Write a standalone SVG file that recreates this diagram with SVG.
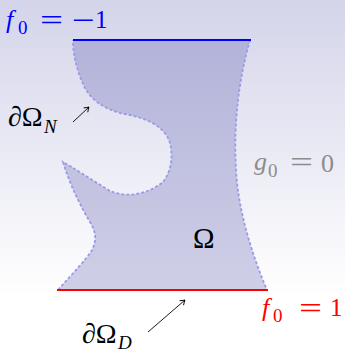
<svg xmlns="http://www.w3.org/2000/svg" width="345" height="349" viewBox="0 0 345 349">
<defs>
<linearGradient id="bg" x1="0" y1="0" x2="0" y2="1">
<stop offset="0" stop-color="#d4d4ea"/>
<stop offset="0.85" stop-color="#ffffff"/>
<stop offset="1" stop-color="#ffffff"/>
</linearGradient>
<linearGradient id="dom" gradientUnits="userSpaceOnUse" x1="0" y1="40" x2="0" y2="290">
<stop offset="0" stop-color="#b3b3da"/>
<stop offset="1" stop-color="#cfcfe7"/>
</linearGradient>
<marker id="ah" markerWidth="8" markerHeight="8" viewBox="-5 -4 6 8" refX="0" refY="0" orient="auto" markerUnits="userSpaceOnUse">
<path d="M-4.5,-3 Q-1.5,-0.6 0,0 Q-1.5,0.6 -4.5,3" fill="none" stroke="#000" stroke-width="0.9"/>
</marker>
<style>
.m{font-family:"Liberation Serif","Times New Roman",serif}
.i{font-style:italic}
.free{fill:none;stroke:#9a9ae6;stroke-width:1.8;stroke-dasharray:3 2}
.arr{fill:none;stroke:#000;stroke-width:0.9;marker-end:url(#ah)}
</style>
</defs>
<rect width="345" height="349" fill="url(#bg)"/>
<g id="domain">
<path d="M73,40 L250,40 C240,75 233,120 236,170 C238,210 252,255 267,290 L58,290 C72,274 86,260 92,250 C97,240 96,232 90,222 C80,205 70,185 63,162 C72,167 92,180 110,191 C128,199 150,193 163,182 C173,170 174,148 167,136 C158,122 140,117 125,114 C105,110 90,100 83,84 C77,70 73,55 73,40 Z" fill="url(#dom)"/>
<path class="free" d="M250,40 C240,75 233,120 236,170 C238,210 252,255 267,290"/>
<path class="free" d="M58,290 C72,274 86,260 92,250 C97,240 96,232 90,222 C80,205 70,185 63,162 C72,167 92,180 110,191 C128,199 150,193 163,182 C173,170 174,148 167,136 C158,122 140,117 125,114 C105,110 90,100 83,84 C77,70 73,55 73,40"/>
<line x1="73" y1="40" x2="251" y2="40" stroke="#0000ff" stroke-width="2"/>
<line x1="57" y1="290" x2="268" y2="290" stroke="#ff0000" stroke-width="2"/>
<text class="m" x="193" y="248" font-size="29">Ω</text>
</g>
<g id="connectors">
<line class="arr" x1="73" y1="122" x2="89" y2="107"/>
<line class="arr" x1="148" y1="332" x2="185" y2="300"/>
</g>
<g id="label-top" fill="#0000ff">
<text class="m i" x="6" y="28" font-size="26">f</text>
<text class="m" x="18" y="34" font-size="19">0</text>
<text class="m" x="40" y="30" font-size="30" textLength="23" lengthAdjust="spacingAndGlyphs">=</text>
<text class="m" x="72" y="30" font-size="30" textLength="23" lengthAdjust="spacingAndGlyphs">−</text>
<text class="m" x="95" y="28" font-size="25">1</text>
</g>
<g id="label-bottom" fill="#ff0000">
<text class="m i" x="262" y="316" font-size="26">f</text>
<text class="m" x="273" y="322" font-size="19">0</text>
<text class="m" x="299" y="318" font-size="30" textLength="23" lengthAdjust="spacingAndGlyphs">=</text>
<text class="m" x="330" y="316" font-size="25">1</text>
</g>
<g id="label-g" fill="#8c8c8c">
<text class="m i" x="254" y="170" font-size="26">g</text>
<text class="m" x="268" y="177" font-size="19">0</text>
<text class="m" x="290" y="172" font-size="30" textLength="23" lengthAdjust="spacingAndGlyphs">=</text>
<text class="m" x="321" y="172" font-size="26">0</text>
</g>
<g id="label-N" fill="#000">
<text class="m" x="8" y="126" font-size="28">∂Ω</text>
<text class="m i" x="44" y="133" font-size="19">N</text>
</g>
<g id="label-D" fill="#000">
<text class="m" x="82" y="343" font-size="28">∂Ω</text>
<text class="m i" x="118" y="349" font-size="19">D</text>
</g>
</svg>
